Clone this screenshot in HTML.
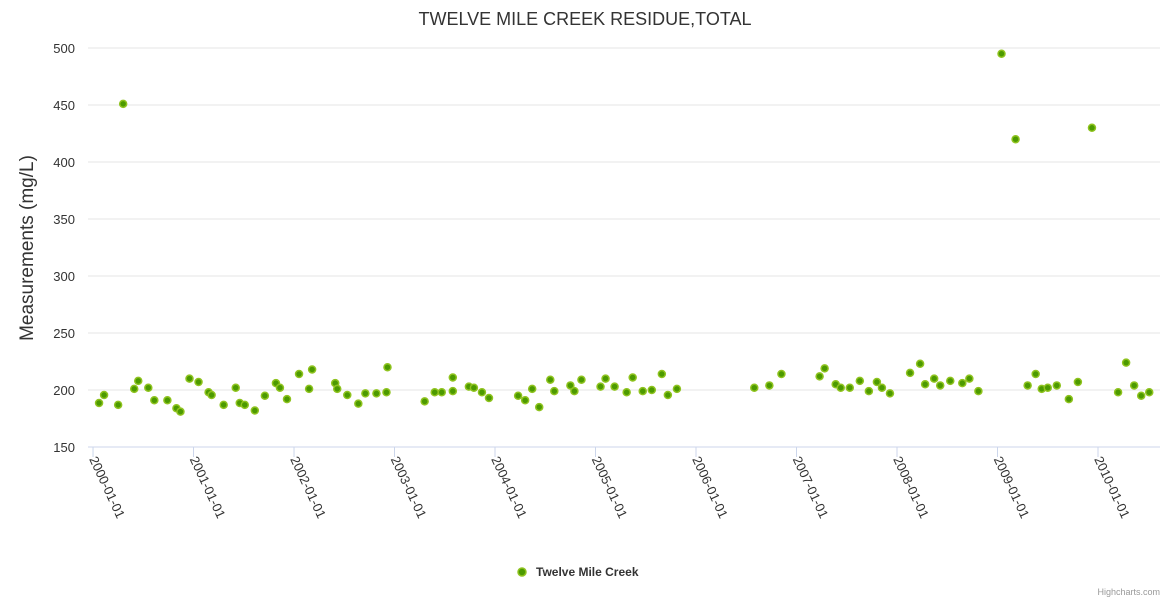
<!DOCTYPE html>
<html><head><meta charset="utf-8"><style>
body{margin:0;background:#fff;font-family:"Liberation Sans",sans-serif}
svg text{font-family:"Liberation Sans",sans-serif}
</style></head><body>
<svg id="c" width="1170" height="600">
<text x="585" y="25" text-anchor="middle" font-size="18" fill="#333">TWELVE MILE CREEK RESIDUE,TOTAL</text>
<text transform="translate(33,248) rotate(-90)" text-anchor="middle" font-size="19" fill="#333">Measurements (mg/L)</text>
<g id="grid"></g><g id="xax"></g><g id="pts"></g>
<g>
<circle cx="522" cy="572" r="4" fill="#4c9a00" stroke="#8fc31f" stroke-width="1.5"/>
<text x="536" y="576" font-size="12" font-weight="bold" fill="#333">Twelve Mile Creek</text></g>
<text x="1160" y="595" text-anchor="end" font-size="9" fill="#999">Highcharts.com</text>
</svg>
<script>
const yTicks=[150,200,250,300,350,400,450,500];
const xTicks=[2000,2001,2002,2003,2004,2005,2006,2007,2008,2009,2010];
const dates=[2000.06,2000.11,2000.25,2000.30,2000.41,2000.45,2000.55,2000.61,2000.74,2000.83,2000.87,2000.96,2001.05,2001.15,2001.18,2001.30,2001.42,2001.46,2001.51,2001.61,2001.71,2001.82,2001.86,2001.93,2002.05,2002.15,2002.18,2002.41,2002.43,2002.53,2002.64,2002.71,2002.82,2002.92,2002.93,2003.30,2003.40,2003.47,2003.58,2003.58,2003.74,2003.79,2003.87,2003.94,2004.23,2004.30,2004.37,2004.44,2004.55,2004.59,2004.75,2004.79,2004.86,2005.05,2005.10,2005.19,2005.31,2005.37,2005.47,2005.56,2005.66,2005.72,2005.81,2006.58,2006.73,2006.85,2007.23,2007.28,2007.39,2007.44,2007.53,2007.63,2007.72,2007.80,2007.85,2007.93,2008.13,2008.23,2008.28,2008.37,2008.43,2008.53,2008.65,2008.72,2008.81,2009.04,2009.18,2009.30,2009.38,2009.44,2009.50,2009.59,2009.71,2009.80,2009.94,2010.20,2010.28,2010.36,2010.43,2010.51];
const values=[188.6,195.6,187,451,201,208,202,191,191,184,181,210,207,198,195.6,187,202,188.6,187,182,195,206,202,192,214,201,218,206,201,195.6,188,197,197,198,220,190,198,198,211,199,203,202,198,193,195,191,201,185,209,199,204,199,209,203,210,203,198,211,199,200,214,195.6,201,202,204,214,212,219,205,202,202,208,199,207,202,197,215,223,205,210,204,208,206,210,199,495,420,204,214,201,202,204,192,207,430,198,224,204,195,198];
const L=88,R=1160,T=48,B=447,x0=1999.95,x1=2010.617;
const X=d=>L+(d-x0)/(x1-x0)*(R-L), Y=v=>B-(v-150)/350*(B-T);
const ns="http://www.w3.org/2000/svg";
function mk(t,a,p){const e=document.createElementNS(ns,t);for(const k in a)e.setAttribute(k,a[k]);p.appendChild(e);return e;}
const g=document.getElementById('grid');
yTicks.forEach(v=>{
 const l=mk('line',{x1:L,x2:R,y1:Y(v),y2:Y(v),stroke:v==150?'#ccd6eb':'#e6e6e6'},g);
 
 
 const t=mk('text',{x:75,y:Y(v)+5,'text-anchor':'end','font-size':13,fill:'#333'},g);t.textContent=v;
 
 
});
const xa=document.getElementById('xax');
xTicks.forEach(d=>{
 const x=X(d);
 const tk=mk('line',{x1:x,x2:x,y1:B,y2:B+10,stroke:'#ccd6eb'},xa);
 
 
 const t=mk('text',{transform:`translate(${x-4},${B+12}) rotate(65)`,'font-size':13,fill:'#333'},xa);
 t.textContent=d+'-01-01';
 
 
});
const p=document.getElementById('pts');
dates.forEach((d,i)=>{
 const c=mk('circle',{cx:X(d),cy:Y(values[i]),r:3.5,fill:'#4c9a00',stroke:'#8fc31f','stroke-width':1.5},p);
 
 
});
</script>
</body></html>
